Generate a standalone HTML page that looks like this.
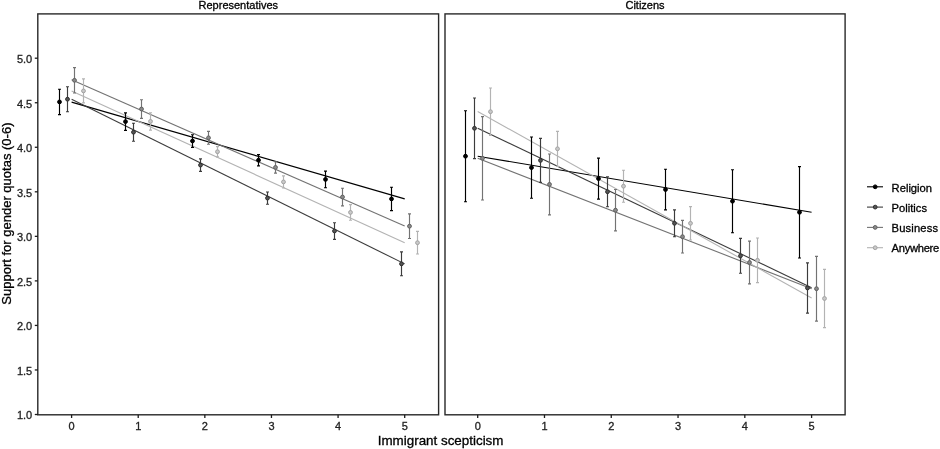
<!DOCTYPE html>
<html><head><meta charset="utf-8"><style>
html,body{margin:0;padding:0;background:#fff;width:940px;height:449px;overflow:hidden}
svg{display:block;font-family:"Liberation Sans",Arial,sans-serif}
text{stroke:currentColor;stroke-width:0.3px;paint-order:stroke}
</style></head><body>
<svg width="940" height="449" viewBox="0 0 940 449">
<rect width="940" height="449" fill="#ffffff"/>
<line x1="71.60" y1="102.10" x2="404.70" y2="198.90" stroke="#000000" stroke-width="1.1"/>
<line x1="71.60" y1="99.25" x2="404.70" y2="263.88" stroke="#3c3c3c" stroke-width="1.1"/>
<line x1="71.60" y1="79.87" x2="404.70" y2="226.03" stroke="#737373" stroke-width="1.1"/>
<line x1="71.60" y1="90.96" x2="404.70" y2="242.70" stroke="#b3b3b3" stroke-width="1.1"/>
<path d="M58.00,89.20H61.00M59.50,89.20V114.60M58.00,114.60H61.00" stroke="#000000" stroke-width="1.15" fill="none"/>
<circle cx="59.50" cy="101.90" r="1.9" fill="#000000" stroke="#000000" stroke-width="1"/>
<path d="M124.00,112.80H127.00M125.50,112.80V130.40M124.00,130.40H127.00" stroke="#000000" stroke-width="1.15" fill="none"/>
<circle cx="125.50" cy="121.60" r="1.9" fill="#000000" stroke="#000000" stroke-width="1"/>
<path d="M191.00,134.70H194.00M192.50,134.70V147.30M191.00,147.30H194.00" stroke="#000000" stroke-width="1.15" fill="none"/>
<circle cx="192.50" cy="141.00" r="1.9" fill="#000000" stroke="#000000" stroke-width="1"/>
<path d="M257.00,154.60H260.00M258.50,154.60V165.80M257.00,165.80H260.00" stroke="#000000" stroke-width="1.15" fill="none"/>
<circle cx="258.50" cy="160.20" r="1.9" fill="#000000" stroke="#000000" stroke-width="1"/>
<path d="M324.00,171.10H327.00M325.50,171.10V187.70M324.00,187.70H327.00" stroke="#000000" stroke-width="1.15" fill="none"/>
<circle cx="325.50" cy="179.40" r="1.9" fill="#000000" stroke="#000000" stroke-width="1"/>
<path d="M390.00,187.20H393.00M391.50,187.20V210.60M390.00,210.60H393.00" stroke="#000000" stroke-width="1.15" fill="none"/>
<circle cx="391.50" cy="198.90" r="1.9" fill="#000000" stroke="#000000" stroke-width="1"/>
<path d="M66.00,86.70H69.00M67.50,86.70V111.70M66.00,111.70H69.00" stroke="#3c3c3c" stroke-width="1.15" fill="none"/>
<circle cx="67.50" cy="99.20" r="1.9" fill="#555555" stroke="#2e2e2e" stroke-width="1"/>
<path d="M132.00,123.20H135.00M133.50,123.20V141.20M132.00,141.20H135.00" stroke="#3c3c3c" stroke-width="1.15" fill="none"/>
<circle cx="133.50" cy="132.20" r="1.9" fill="#555555" stroke="#2e2e2e" stroke-width="1"/>
<path d="M199.00,158.80H202.00M200.50,158.80V171.40M199.00,171.40H202.00" stroke="#3c3c3c" stroke-width="1.15" fill="none"/>
<circle cx="200.50" cy="165.10" r="1.9" fill="#555555" stroke="#2e2e2e" stroke-width="1"/>
<path d="M266.00,192.00H269.00M267.50,192.00V204.20M266.00,204.20H269.00" stroke="#3c3c3c" stroke-width="1.15" fill="none"/>
<circle cx="267.50" cy="198.10" r="1.9" fill="#555555" stroke="#2e2e2e" stroke-width="1"/>
<path d="M333.00,222.70H336.00M334.50,222.70V239.30M333.00,239.30H336.00" stroke="#3c3c3c" stroke-width="1.15" fill="none"/>
<circle cx="334.50" cy="231.00" r="1.9" fill="#555555" stroke="#2e2e2e" stroke-width="1"/>
<path d="M400.00,251.90H403.00M401.50,251.90V275.70M400.00,275.70H403.00" stroke="#3c3c3c" stroke-width="1.15" fill="none"/>
<circle cx="401.50" cy="263.80" r="1.9" fill="#555555" stroke="#2e2e2e" stroke-width="1"/>
<path d="M73.00,67.60H76.00M74.50,67.60V93.00M73.00,93.00H76.00" stroke="#737373" stroke-width="1.15" fill="none"/>
<circle cx="74.50" cy="80.30" r="1.9" fill="#8c8c8c" stroke="#606060" stroke-width="1"/>
<path d="M140.00,99.70H143.00M141.50,99.70V118.30M140.00,118.30H143.00" stroke="#737373" stroke-width="1.15" fill="none"/>
<circle cx="141.50" cy="109.00" r="1.9" fill="#8c8c8c" stroke="#606060" stroke-width="1"/>
<path d="M207.00,131.40H210.00M208.50,131.40V144.20M207.00,144.20H210.00" stroke="#737373" stroke-width="1.15" fill="none"/>
<circle cx="208.50" cy="137.80" r="1.9" fill="#8c8c8c" stroke="#606060" stroke-width="1"/>
<path d="M274.00,161.70H277.00M275.50,161.70V173.10M274.00,173.10H277.00" stroke="#737373" stroke-width="1.15" fill="none"/>
<circle cx="275.50" cy="167.40" r="1.9" fill="#8c8c8c" stroke="#606060" stroke-width="1"/>
<path d="M341.00,188.20H344.00M342.50,188.20V205.80M341.00,205.80H344.00" stroke="#737373" stroke-width="1.15" fill="none"/>
<circle cx="342.50" cy="197.00" r="1.9" fill="#8c8c8c" stroke="#606060" stroke-width="1"/>
<path d="M408.00,213.90H411.00M409.50,213.90V238.50M408.00,238.50H411.00" stroke="#737373" stroke-width="1.15" fill="none"/>
<circle cx="409.50" cy="226.20" r="1.9" fill="#8c8c8c" stroke="#606060" stroke-width="1"/>
<path d="M82.00,78.90H85.00M83.50,78.90V102.90M82.00,102.90H85.00" stroke="#b3b3b3" stroke-width="1.15" fill="none"/>
<circle cx="83.50" cy="90.90" r="1.9" fill="#cacaca" stroke="#a2a2a2" stroke-width="1"/>
<path d="M149.00,112.70H152.00M150.50,112.70V130.10M149.00,130.10H152.00" stroke="#b3b3b3" stroke-width="1.15" fill="none"/>
<circle cx="150.50" cy="121.40" r="1.9" fill="#cacaca" stroke="#a2a2a2" stroke-width="1"/>
<path d="M216.00,146.60H219.00M217.50,146.60V156.80M216.00,156.80H219.00" stroke="#b3b3b3" stroke-width="1.15" fill="none"/>
<circle cx="217.50" cy="151.70" r="1.9" fill="#cacaca" stroke="#a2a2a2" stroke-width="1"/>
<path d="M282.00,175.80H285.00M283.50,175.80V188.00M282.00,188.00H285.00" stroke="#b3b3b3" stroke-width="1.15" fill="none"/>
<circle cx="283.50" cy="181.90" r="1.9" fill="#cacaca" stroke="#a2a2a2" stroke-width="1"/>
<path d="M349.00,204.60H352.00M350.50,204.60V220.20M349.00,220.20H352.00" stroke="#b3b3b3" stroke-width="1.15" fill="none"/>
<circle cx="350.50" cy="212.40" r="1.9" fill="#cacaca" stroke="#a2a2a2" stroke-width="1"/>
<path d="M416.00,231.40H419.00M417.50,231.40V254.00M416.00,254.00H419.00" stroke="#b3b3b3" stroke-width="1.15" fill="none"/>
<circle cx="417.50" cy="242.70" r="1.9" fill="#cacaca" stroke="#a2a2a2" stroke-width="1"/>
<rect x="37.8" y="13.9" width="400.80" height="400.90" fill="none" stroke="#282828" stroke-width="1.4"/>
<line x1="71.60" y1="414.8" x2="71.60" y2="418.0" stroke="#1c1c1c" stroke-width="1.3"/>
<text x="71.60" y="430.3" font-size="11" text-anchor="middle" fill="#222" color="#222">0</text>
<line x1="138.22" y1="414.8" x2="138.22" y2="418.0" stroke="#1c1c1c" stroke-width="1.3"/>
<text x="138.22" y="430.3" font-size="11" text-anchor="middle" fill="#222" color="#222">1</text>
<line x1="204.84" y1="414.8" x2="204.84" y2="418.0" stroke="#1c1c1c" stroke-width="1.3"/>
<text x="204.84" y="430.3" font-size="11" text-anchor="middle" fill="#222" color="#222">2</text>
<line x1="271.46" y1="414.8" x2="271.46" y2="418.0" stroke="#1c1c1c" stroke-width="1.3"/>
<text x="271.46" y="430.3" font-size="11" text-anchor="middle" fill="#222" color="#222">3</text>
<line x1="338.08" y1="414.8" x2="338.08" y2="418.0" stroke="#1c1c1c" stroke-width="1.3"/>
<text x="338.08" y="430.3" font-size="11" text-anchor="middle" fill="#222" color="#222">4</text>
<line x1="404.70" y1="414.8" x2="404.70" y2="418.0" stroke="#1c1c1c" stroke-width="1.3"/>
<text x="404.70" y="430.3" font-size="11" text-anchor="middle" fill="#222" color="#222">5</text>
<text x="238.3" y="8.7" font-size="11" text-anchor="middle" fill="#000">Representatives</text>
<line x1="477.70" y1="156.22" x2="811.60" y2="212.25" stroke="#000000" stroke-width="1.1"/>
<line x1="477.70" y1="128.18" x2="811.60" y2="287.65" stroke="#3c3c3c" stroke-width="1.1"/>
<line x1="477.70" y1="158.27" x2="811.60" y2="288.67" stroke="#737373" stroke-width="1.1"/>
<line x1="477.70" y1="111.54" x2="811.60" y2="298.06" stroke="#b3b3b3" stroke-width="1.1"/>
<path d="M464.00,110.70H467.00M465.50,110.70V201.70M464.00,201.70H467.00" stroke="#000000" stroke-width="1.15" fill="none"/>
<circle cx="465.50" cy="156.20" r="1.9" fill="#000000" stroke="#000000" stroke-width="1"/>
<path d="M530.00,137.00H533.00M531.50,137.00V198.20M530.00,198.20H533.00" stroke="#000000" stroke-width="1.15" fill="none"/>
<circle cx="531.50" cy="167.60" r="1.9" fill="#000000" stroke="#000000" stroke-width="1"/>
<path d="M597.00,158.10H600.00M598.50,158.10V199.10M597.00,199.10H600.00" stroke="#000000" stroke-width="1.15" fill="none"/>
<circle cx="598.50" cy="178.60" r="1.9" fill="#000000" stroke="#000000" stroke-width="1"/>
<path d="M664.00,169.20H667.00M665.50,169.20V209.80M664.00,209.80H667.00" stroke="#000000" stroke-width="1.15" fill="none"/>
<circle cx="665.50" cy="189.50" r="1.9" fill="#000000" stroke="#000000" stroke-width="1"/>
<path d="M731.00,169.70H734.00M732.50,169.70V232.70M731.00,232.70H734.00" stroke="#000000" stroke-width="1.15" fill="none"/>
<circle cx="732.50" cy="201.20" r="1.9" fill="#000000" stroke="#000000" stroke-width="1"/>
<path d="M798.00,166.60H801.00M799.50,166.60V258.00M798.00,258.00H801.00" stroke="#000000" stroke-width="1.15" fill="none"/>
<circle cx="799.50" cy="212.30" r="1.9" fill="#000000" stroke="#000000" stroke-width="1"/>
<path d="M473.00,98.00H476.00M474.50,98.00V158.60M473.00,158.60H476.00" stroke="#3c3c3c" stroke-width="1.15" fill="none"/>
<circle cx="474.50" cy="128.30" r="1.9" fill="#555555" stroke="#2e2e2e" stroke-width="1"/>
<path d="M539.00,138.40H542.00M540.50,138.40V182.40M539.00,182.40H542.00" stroke="#3c3c3c" stroke-width="1.15" fill="none"/>
<circle cx="540.50" cy="160.40" r="1.9" fill="#555555" stroke="#2e2e2e" stroke-width="1"/>
<path d="M606.00,176.70H609.00M607.50,176.70V206.70M606.00,206.70H609.00" stroke="#3c3c3c" stroke-width="1.15" fill="none"/>
<circle cx="607.50" cy="191.70" r="1.9" fill="#555555" stroke="#2e2e2e" stroke-width="1"/>
<path d="M673.00,209.90H676.00M674.50,209.90V236.70M673.00,236.70H676.00" stroke="#3c3c3c" stroke-width="1.15" fill="none"/>
<circle cx="674.50" cy="223.30" r="1.9" fill="#555555" stroke="#2e2e2e" stroke-width="1"/>
<path d="M739.00,238.40H742.00M740.50,238.40V273.20M739.00,273.20H742.00" stroke="#3c3c3c" stroke-width="1.15" fill="none"/>
<circle cx="740.50" cy="255.80" r="1.9" fill="#555555" stroke="#2e2e2e" stroke-width="1"/>
<path d="M806.00,262.90H809.00M807.50,262.90V313.10M806.00,313.10H809.00" stroke="#3c3c3c" stroke-width="1.15" fill="none"/>
<circle cx="807.50" cy="288.00" r="1.9" fill="#555555" stroke="#2e2e2e" stroke-width="1"/>
<path d="M481.00,116.60H484.00M482.50,116.60V200.00M481.00,200.00H484.00" stroke="#737373" stroke-width="1.15" fill="none"/>
<circle cx="482.50" cy="158.30" r="1.9" fill="#8c8c8c" stroke="#606060" stroke-width="1"/>
<path d="M548.00,154.00H551.00M549.50,154.00V214.80M548.00,214.80H551.00" stroke="#737373" stroke-width="1.15" fill="none"/>
<circle cx="549.50" cy="184.40" r="1.9" fill="#8c8c8c" stroke="#606060" stroke-width="1"/>
<path d="M614.00,189.50H617.00M615.50,189.50V230.90M614.00,230.90H617.00" stroke="#737373" stroke-width="1.15" fill="none"/>
<circle cx="615.50" cy="210.20" r="1.9" fill="#8c8c8c" stroke="#606060" stroke-width="1"/>
<path d="M681.00,220.40H684.00M682.50,220.40V253.00M681.00,253.00H684.00" stroke="#737373" stroke-width="1.15" fill="none"/>
<circle cx="682.50" cy="236.70" r="1.9" fill="#8c8c8c" stroke="#606060" stroke-width="1"/>
<path d="M748.00,241.10H751.00M749.50,241.10V283.90M748.00,283.90H751.00" stroke="#737373" stroke-width="1.15" fill="none"/>
<circle cx="749.50" cy="262.50" r="1.9" fill="#8c8c8c" stroke="#606060" stroke-width="1"/>
<path d="M815.00,256.30H818.00M816.50,256.30V321.10M815.00,321.10H818.00" stroke="#737373" stroke-width="1.15" fill="none"/>
<circle cx="816.50" cy="288.70" r="1.9" fill="#8c8c8c" stroke="#606060" stroke-width="1"/>
<path d="M489.00,88.00H492.00M490.50,88.00V135.40M489.00,135.40H492.00" stroke="#b3b3b3" stroke-width="1.15" fill="none"/>
<circle cx="490.50" cy="111.70" r="1.9" fill="#cacaca" stroke="#a2a2a2" stroke-width="1"/>
<path d="M556.00,131.30H559.00M557.50,131.30V166.30M556.00,166.30H559.00" stroke="#b3b3b3" stroke-width="1.15" fill="none"/>
<circle cx="557.50" cy="148.80" r="1.9" fill="#cacaca" stroke="#a2a2a2" stroke-width="1"/>
<path d="M622.00,170.20H625.00M623.50,170.20V202.20M622.00,202.20H625.00" stroke="#b3b3b3" stroke-width="1.15" fill="none"/>
<circle cx="623.50" cy="186.20" r="1.9" fill="#cacaca" stroke="#a2a2a2" stroke-width="1"/>
<path d="M689.00,206.60H692.00M690.50,206.60V240.00M689.00,240.00H692.00" stroke="#b3b3b3" stroke-width="1.15" fill="none"/>
<circle cx="690.50" cy="223.30" r="1.9" fill="#cacaca" stroke="#a2a2a2" stroke-width="1"/>
<path d="M756.00,238.00H759.00M757.50,238.00V282.60M756.00,282.60H759.00" stroke="#b3b3b3" stroke-width="1.15" fill="none"/>
<circle cx="757.50" cy="260.30" r="1.9" fill="#cacaca" stroke="#a2a2a2" stroke-width="1"/>
<path d="M823.00,269.40H826.00M824.50,269.40V327.60M823.00,327.60H826.00" stroke="#b3b3b3" stroke-width="1.15" fill="none"/>
<circle cx="824.50" cy="298.50" r="1.9" fill="#cacaca" stroke="#a2a2a2" stroke-width="1"/>
<rect x="445.0" y="13.9" width="400.10" height="400.90" fill="none" stroke="#282828" stroke-width="1.4"/>
<line x1="477.70" y1="414.8" x2="477.70" y2="418.0" stroke="#1c1c1c" stroke-width="1.3"/>
<text x="477.70" y="430.3" font-size="11" text-anchor="middle" fill="#222" color="#222">0</text>
<line x1="544.48" y1="414.8" x2="544.48" y2="418.0" stroke="#1c1c1c" stroke-width="1.3"/>
<text x="544.48" y="430.3" font-size="11" text-anchor="middle" fill="#222" color="#222">1</text>
<line x1="611.26" y1="414.8" x2="611.26" y2="418.0" stroke="#1c1c1c" stroke-width="1.3"/>
<text x="611.26" y="430.3" font-size="11" text-anchor="middle" fill="#222" color="#222">2</text>
<line x1="678.04" y1="414.8" x2="678.04" y2="418.0" stroke="#1c1c1c" stroke-width="1.3"/>
<text x="678.04" y="430.3" font-size="11" text-anchor="middle" fill="#222" color="#222">3</text>
<line x1="744.82" y1="414.8" x2="744.82" y2="418.0" stroke="#1c1c1c" stroke-width="1.3"/>
<text x="744.82" y="430.3" font-size="11" text-anchor="middle" fill="#222" color="#222">4</text>
<line x1="811.60" y1="414.8" x2="811.60" y2="418.0" stroke="#1c1c1c" stroke-width="1.3"/>
<text x="811.60" y="430.3" font-size="11" text-anchor="middle" fill="#222" color="#222">5</text>
<text x="645.0" y="8.7" font-size="11" text-anchor="middle" fill="#000">Citizens</text>
<line x1="34.8" y1="414.50" x2="37.9" y2="414.50" stroke="#1c1c1c" stroke-width="1.3"/>
<text x="32.2" y="419.40" font-size="11" text-anchor="end" fill="#222" color="#222">1.0</text>
<line x1="34.8" y1="369.96" x2="37.9" y2="369.96" stroke="#1c1c1c" stroke-width="1.3"/>
<text x="32.2" y="374.86" font-size="11" text-anchor="end" fill="#222" color="#222">1.5</text>
<line x1="34.8" y1="325.43" x2="37.9" y2="325.43" stroke="#1c1c1c" stroke-width="1.3"/>
<text x="32.2" y="330.32" font-size="11" text-anchor="end" fill="#222" color="#222">2.0</text>
<line x1="34.8" y1="280.89" x2="37.9" y2="280.89" stroke="#1c1c1c" stroke-width="1.3"/>
<text x="32.2" y="285.79" font-size="11" text-anchor="end" fill="#222" color="#222">2.5</text>
<line x1="34.8" y1="236.35" x2="37.9" y2="236.35" stroke="#1c1c1c" stroke-width="1.3"/>
<text x="32.2" y="241.25" font-size="11" text-anchor="end" fill="#222" color="#222">3.0</text>
<line x1="34.8" y1="191.81" x2="37.9" y2="191.81" stroke="#1c1c1c" stroke-width="1.3"/>
<text x="32.2" y="196.71" font-size="11" text-anchor="end" fill="#222" color="#222">3.5</text>
<line x1="34.8" y1="147.27" x2="37.9" y2="147.27" stroke="#1c1c1c" stroke-width="1.3"/>
<text x="32.2" y="152.17" font-size="11" text-anchor="end" fill="#222" color="#222">4.0</text>
<line x1="34.8" y1="102.74" x2="37.9" y2="102.74" stroke="#1c1c1c" stroke-width="1.3"/>
<text x="32.2" y="107.64" font-size="11" text-anchor="end" fill="#222" color="#222">4.5</text>
<line x1="34.8" y1="58.20" x2="37.9" y2="58.20" stroke="#1c1c1c" stroke-width="1.3"/>
<text x="32.2" y="63.10" font-size="11" text-anchor="end" fill="#222" color="#222">5.0</text>
<text x="440.6" y="445.1" font-size="13.4" text-anchor="middle" fill="#000">Immigrant scepticism</text>
<text transform="translate(11.4,213.6) rotate(-90)" x="0" y="0" font-size="13" text-anchor="middle" fill="#000">Support for gender quotas (0-6)</text>
<line x1="867" y1="186.80" x2="883" y2="186.80" stroke="#000000" stroke-width="1.1"/>
<circle cx="875.2" cy="186.80" r="1.9" fill="#000000" stroke="#000000" stroke-width="1"/>
<text x="891.6" y="191.50" font-size="11.2" fill="#000">Religion</text>
<line x1="867" y1="207.10" x2="883" y2="207.10" stroke="#3c3c3c" stroke-width="1.1"/>
<circle cx="875.2" cy="207.10" r="1.9" fill="#555555" stroke="#2e2e2e" stroke-width="1"/>
<text x="891.6" y="211.80" font-size="11.2" fill="#000">Politics</text>
<line x1="867" y1="227.40" x2="883" y2="227.40" stroke="#737373" stroke-width="1.1"/>
<circle cx="875.2" cy="227.40" r="1.9" fill="#8c8c8c" stroke="#606060" stroke-width="1"/>
<text x="891.6" y="232.10" font-size="11.2" fill="#000" textLength="46.4">Business</text>
<line x1="867" y1="247.70" x2="883" y2="247.70" stroke="#b3b3b3" stroke-width="1.1"/>
<circle cx="875.2" cy="247.70" r="1.9" fill="#cacaca" stroke="#a2a2a2" stroke-width="1"/>
<text x="891.6" y="252.40" font-size="11.2" fill="#000" textLength="47.6">Anywhere</text>
</svg>
</body></html>
